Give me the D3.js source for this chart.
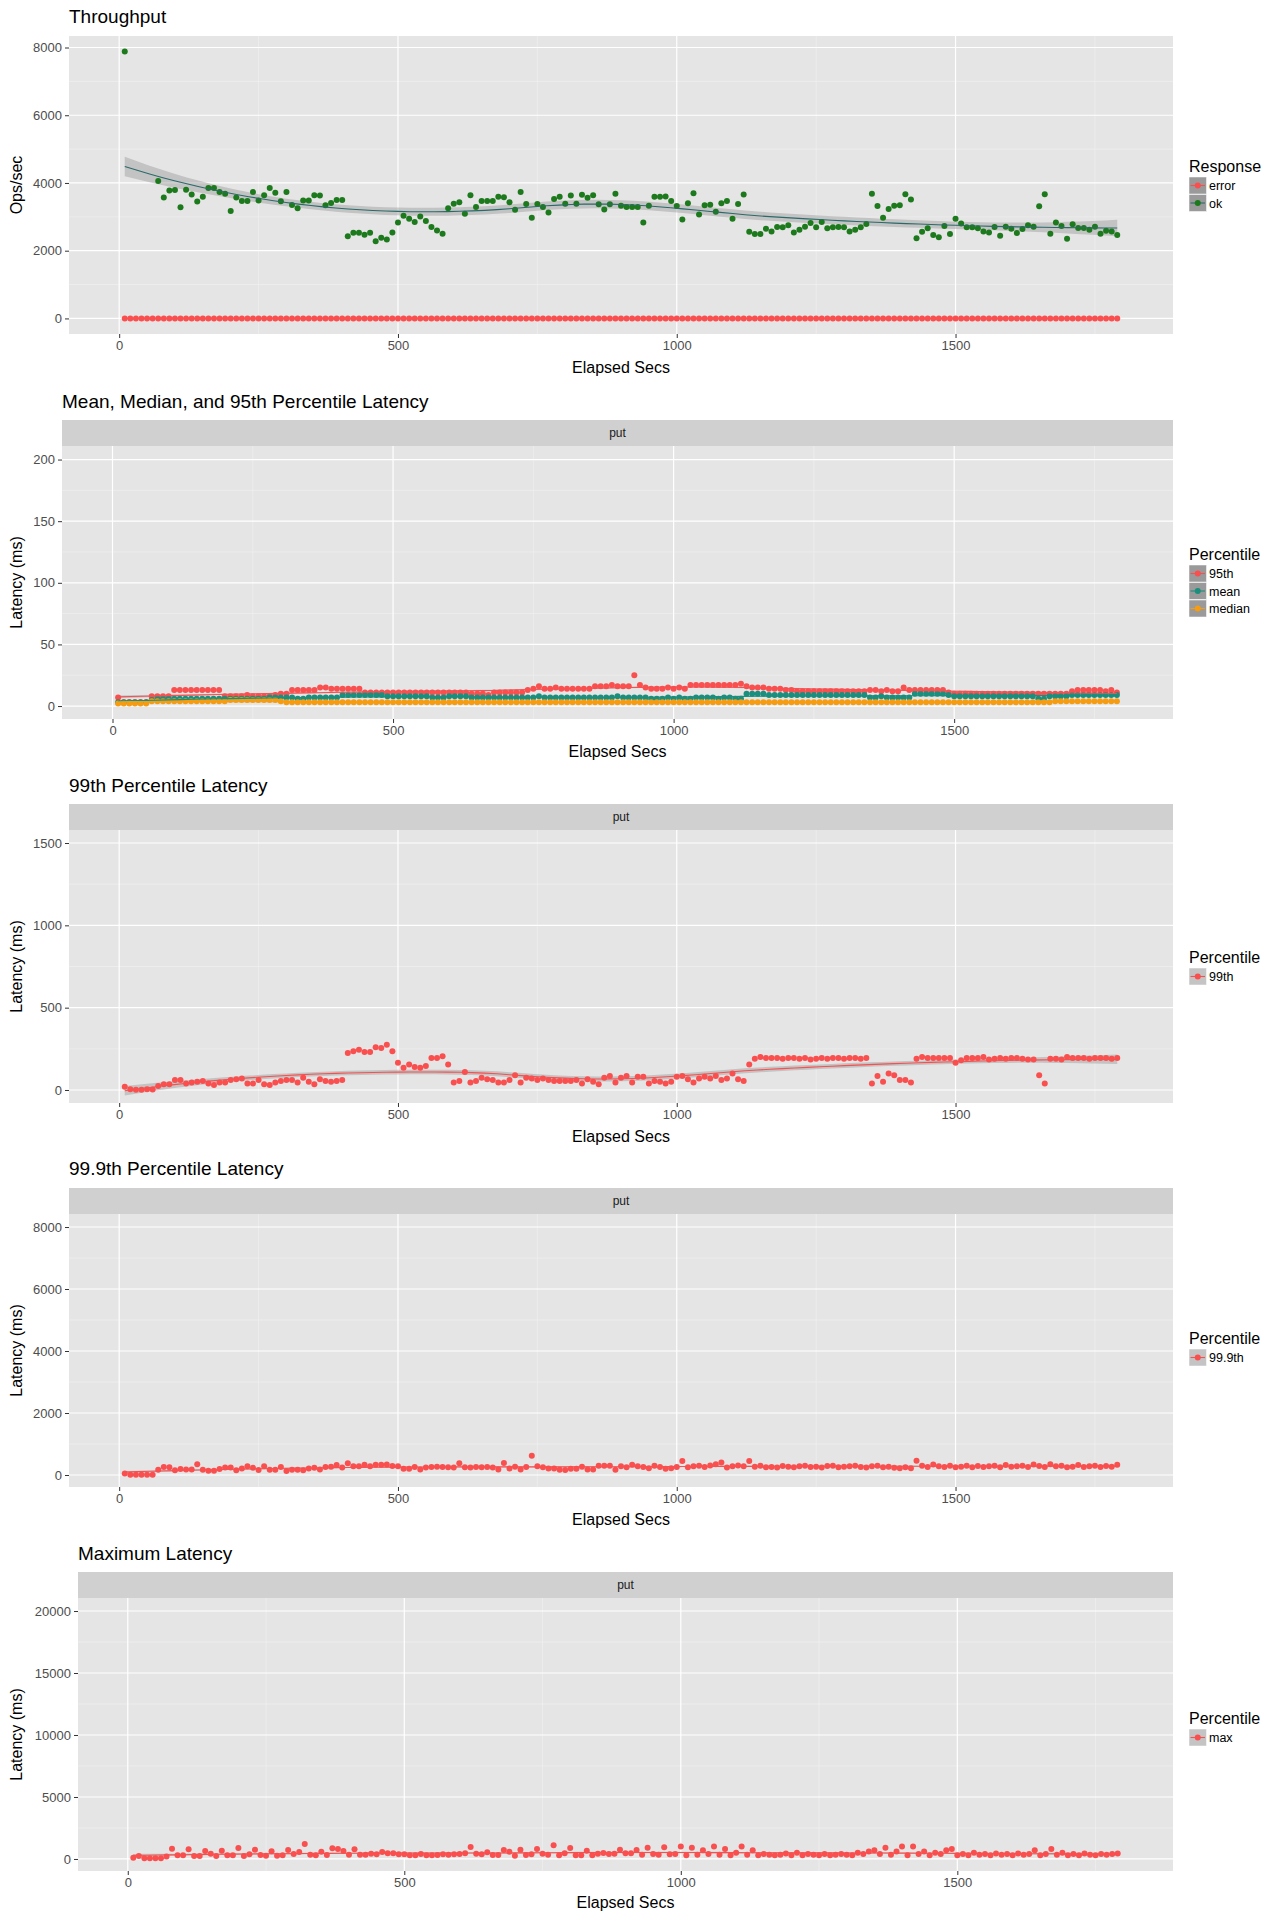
<!DOCTYPE html>
<html><head><meta charset="utf-8">
<script src="https://cdn.jsdelivr.net/npm/d3@7"></script>
<style>body{margin:0;background:#fff}svg{display:block;font-family:"Liberation Sans",Arial,sans-serif}</style>
</head><body><svg id="c" width="1280" height="1920"></svg>
<script>
// ---------- data (t = 10,20,...,1790) ----------
const okOps = [7880,null,null,null,null,null,4060,3570,3780,3790,3280,3800,3660,3450,3590,3850,3850,3730,3680,3170,3570,3470,3470,3730,3480,3640,3850,3710,3460,3730,3350,3250,3480,3480,3640,3630,3340,3410,3500,3500,
2430,2530,2530,2470,2530,2280,2380,2330,2540,2830,3030,2940,2850,3010,2880,2700,2600,2500,3250,3390,3430,3090,3640,3290,3470,3470,3470,3590,3580,3430,3210,3730,3380,2970,3380,3290,3130,3530,3590,3390,
3630,3390,3650,3560,3640,3370,3220,3370,3680,3330,3290,3290,3290,2830,3330,3590,3590,3600,3470,3320,2920,3400,3700,3070,3340,3360,3150,3400,3470,2940,3380,3660,2560,2490,2490,2650,2570,2700,2690,2750,
2540,2620,2710,2820,2690,2850,2660,2690,2700,2690,2570,2620,2690,2790,3680,3320,2970,3230,3330,3340,3670,3510,2370,2560,2660,2460,2400,2730,2490,2940,2800,2690,2690,2660,2570,2540,2700,2440,2710,2650,
2520,2640,2750,2710,3310,3670,2500,2830,2730,2350,2780,2670,2670,2620,2710,2500,2590,2570,2460];
// every "error" reading in the chart sits at 0 ops/sec for all 179 samples
const errorOps = okOps.map(() => 0);
const p95 = [7,3,3,3,3,3,8,8,8,8, 13,13,13,13,13,13,13,13,13,8, 8,8,8,9,8,8,8,8,9,10, 10,13,13,13,13,13,15,15,14,14,
14,14,14,14,11,11,11,11,11,11, 11,11,11,11,11,11,11,11,11,11, 11,11,11,10,10,10,9,11,11,11, 11,11,11,13,14,16,14,14,15,14,
14,14,14,14,14,16,16,16,17,16, 16,16,25,17,15,14,14,14,15,14, 15,14,17,17,17,17,17,17,17,17, 17,18,16,15,15,15,14,14,14,13,
13,12,12,12,12,12,12,12,12,12, 12,12,12,12,13,13,12,13,12,12, 15,13,13,13,13,13,13,13,11,10, 10,10,10,10,10,10,10,10,10,10,
10,10,10,10,10,10,10,10,10,10, 12,13,13,13,13,13,12,13,11];
const pMean = [3,3,3,3,3,3,5,6,6,6, 6,6,6,6,6,6,6,6,6,6, 6,6,6,6,6,6,6,7,7,7, 7,7,6,6,7,7,7,7,7,7,
9,9,9,9,9,9,9,9,8,8, 8,8,8,8,8,8,7,7,7,8, 8,8,8,7,7,7,7,7,7,7, 7,7,7,7,7,8,7,7,7,7,
7,7,7,7,7,7,7,7,7,8, 7,7,7,7,7,6,6,6,7,6, 7,6,6,7,7,7,7,6,7,7, 6,6,10,10,10,10,9,9,9,9,
9,9,9,9,9,9,9,9,9,9, 9,9,9,9,7,7,8,7,7,7, 7,7,10,10,10,10,10,10,9,8, 8,8,8,8,8,8,8,8,8,8,
8,8,8,8,6,6,8,8,8,8, 9,9,9,9,9,9,9,9,9];
const pMedian = [2,2,2,2,2,2,4,4,4,4, 4,4,4,4,4,4,4,4,4,4, 5,5,5,5,5,5,5,5,5,4, 3,3,3,3,3,3,3,3,3,3,
3,3,3,3,3,3,3,3,3,3, 3,3,3,3,3,3,3,3,3,3, 3,3,3,3,3,3,3,3,3,3, 3,3,3,3,3,3,3,3,3,3,
3,3,3,3,3,3,3,3,3,3, 3,3,3,3,3,3,3,3,3,3, 3,3,3,3,3,3,3,3,3,3, 3,3,3,3,3,3,3,3,3,3,
3,3,3,3,3,3,3,3,3,3, 3,3,3,3,3,3,3,3,3,3, 3,3,3,3,3,3,3,3,3,3, 3,3,3,3,3,3,3,3,3,3,
3,3,3,3,3,3,3,4,4,4, 4,4,4,4,4,4,4,4,4];
const p99 = [20,5,2,2,5,3,25,35,35,60, 60,40,45,50,55,40,30,45,45,60, 65,70,40,40,60,35,30,45,55,60, 60,45,75,50,35,65,55,50,55,60,
225,235,245,230,230,260,255,275,235,165, 135,155,140,135,145,195,195,205,155,45, 55,110,45,55,75,65,60,45,45,60, 90,45,75,70,60,70,60,55,55,55,
55,60,40,65,50,35,75,85,45,75, 85,45,80,80,40,55,50,40,50,80, 85,65,45,70,80,70,85,60,70,100, 65,55,155,190,200,195,195,195,190,195,
195,190,195,185,190,195,190,195,195,190, 195,195,190,195,40,85,50,100,90,60, 60,45,190,200,195,195,195,195,195,165, 180,195,195,195,200,185,190,195,190,195,
195,190,185,185,90,40,190,190,185,200, 195,195,195,190,195,195,195,190,195];
const p999 = [45,10,5,5,10,5,170,260,250,150, 190,180,180,350,170,140,140,190,240,240, 150,210,280,230,160,280,170,170,260,130, 170,170,150,210,230,180,260,270,320,240,
380,280,280,330,280,330,330,340,290,280, 200,200,260,180,240,260,270,260,250,240, 380,250,240,260,250,260,240,180,390,210, 270,180,260,620,280,250,210,210,170,160,
200,200,270,180,180,300,300,300,170,280, 250,330,280,260,220,300,260,200,220,260, 450,250,280,300,260,310,350,400,240,280, 310,280,450,270,300,250,260,240,290,270,
250,280,300,260,270,240,290,300,250,270, 280,300,260,240,280,300,250,270,230,220, 250,220,460,300,260,340,280,260,300,250, 270,300,250,290,260,280,300,250,320,270,
280,300,260,340,290,260,350,280,300,250, 270,320,260,280,300,260,290,270,330];
const pMax = [100,240,50,50,50,50,200,830,300,300, 780,240,240,640,430,240,670,300,300,880, 240,380,750,320,270,620,270,300,720,400, 560,1200,350,300,590,320,860,800,640,350,
780,350,350,430,380,560,460,460,380,380, 300,300,400,300,300,320,380,350,380,400, 460,960,430,380,540,320,320,720,590,270, 750,320,380,800,430,350,1100,300,460,880,
300,300,670,300,430,480,400,430,750,460, 460,720,350,900,400,350,950,380,400,1000, 300,900,350,700,400,1000,350,800,300,500, 1000,350,700,300,400,350,300,350,450,300,
500,300,400,350,300,400,300,350,400,350, 300,500,400,600,700,400,900,350,600,1000, 300,1000,400,600,300,500,400,700,800,300, 400,300,500,350,400,300,450,350,400,300,
450,350,400,700,300,400,800,350,500,300, 400,300,450,350,300,400,350,400,450];
const xTicks = [0,500,1000,1500];

// ---------- loess ----------
function loess(pts, span=0.75){
  const n=pts.length, q=Math.floor(span*n);
  const xs=pts.map(p=>p[0]), ys=pts.map(p=>p[1]);
  function fitAt(x0){
    const d=xs.map(x=>Math.abs(x-x0)); const sd=[...d].sort((a,b)=>a-b);
    const h=sd[Math.min(q,n)-1]*1.0001;
    const w=d.map(v=>{const u=v/h;return u<1?Math.pow(1-u*u*u,3):0;});
    const S=[[0,0,0],[0,0,0],[0,0,0]];
    for(let i=0;i<n;i++){const z=(xs[i]-x0)/h, r=[1,z,z*z];
      for(let a=0;a<3;a++)for(let b=0;b<3;b++)S[a][b]+=w[i]*r[a]*r[b];}
    const inv=inv3(S);
    let fit=0, l2=0;
    for(let i=0;i<n;i++){const z=(xs[i]-x0)/h;
      const li=(inv[0][0]+inv[0][1]*z+inv[0][2]*z*z)*w[i];
      fit+=li*ys[i]; l2+=li*li;}
    return [fit,l2];
  }
  let rss=0; pts.forEach(p=>{const f=fitAt(p[0])[0]; rss+=(p[1]-f)**2;});
  const sigma=Math.sqrt(rss/Math.max(1,n-5));
  const x0=d3.min(xs), x1=d3.max(xs), out=[];
  for(let k=0;k<=80;k++){const x=x0+(x1-x0)*k/80; const [f,l2]=fitAt(x);
    const se=sigma*Math.sqrt(l2); out.push({x,y:f,lo:f-1.97*se,hi:f+1.97*se});}
  return out;
}
function inv3(m){
  const [a,b,c]=m[0],[d,e,f]=m[1],[g,h,i]=m[2];
  const A=e*i-f*h,B=-(d*i-f*g),C=d*h-e*g, det=a*A+b*B+c*C;
  return [[A/det,-(b*i-c*h)/det,(b*f-c*e)/det],[B/det,(a*i-c*g)/det,-(a*f-c*d)/det],[C/det,-(a*h-b*g)/det,(a*e-b*d)/det]];
}

// ---------- panel ----------
const svg=d3.select("#c");
const RIGHT=1173;
function panel(cfg){
  const g=svg.append("g");
  const x=d3.scaleLinear().domain([-90,1890]).range([cfg.left,RIGHT]);
  const y=d3.scaleLinear().domain(cfg.yDomain).range([cfg.bottom,cfg.top]);
  g.append("text").attr("x",cfg.titleX).attr("y",cfg.titleY).attr("font-size",19).attr("fill","#000").text(cfg.title);
  if(cfg.strip){
    g.append("rect").attr("x",cfg.left).attr("y",cfg.strip[0]).attr("width",RIGHT-cfg.left).attr("height",cfg.strip[1]-cfg.strip[0]).attr("fill","#d0d0d0");
    g.append("text").attr("x",(cfg.left+RIGHT)/2).attr("y",(cfg.strip[0]+cfg.strip[1])/2+4).attr("text-anchor","middle").attr("font-size",12).attr("fill","#1a1a1a").text("put");
  }
  g.append("rect").attr("x",cfg.left).attr("y",cfg.top).attr("width",RIGHT-cfg.left).attr("height",cfg.bottom-cfg.top).attr("fill","#e5e5e5");
  const yt=cfg.yTicks, step=yt[1]-yt[0];
  const yMinor=[]; for(let v=yt[0]-step/2; v<=cfg.yDomain[1]; v+=step) if(v>=cfg.yDomain[0]) yMinor.push(v);
  const xMinor=[250,750,1250,1750];
  g.selectAll(".ym").data(yMinor).join("line").attr("x1",cfg.left).attr("x2",RIGHT).attr("y1",d=>y(d)).attr("y2",d=>y(d)).attr("stroke","#f2f2f2").attr("stroke-width",0.6);
  g.selectAll(".xm").data(xMinor).join("line").attr("y1",cfg.top).attr("y2",cfg.bottom).attr("x1",d=>x(d)).attr("x2",d=>x(d)).attr("stroke","#f2f2f2").attr("stroke-width",0.6);
  g.selectAll(".yM").data(yt).join("line").attr("x1",cfg.left).attr("x2",RIGHT).attr("y1",d=>y(d)).attr("y2",d=>y(d)).attr("stroke","#fff").attr("stroke-width",1.2);
  g.selectAll(".xM").data(xTicks).join("line").attr("y1",cfg.top).attr("y2",cfg.bottom).attr("x1",d=>x(d)).attr("x2",d=>x(d)).attr("stroke","#fff").attr("stroke-width",1.2);
  const ax=g.append("g").attr("transform",`translate(0,${cfg.bottom})`).call(d3.axisBottom(x).tickValues(xTicks).tickSize(4).tickPadding(3).tickFormat(d3.format("d")));
  const ay=g.append("g").attr("transform",`translate(${cfg.left},0)`).call(d3.axisLeft(y).tickValues(yt).tickSize(4).tickPadding(3).tickFormat(d3.format("d")));
  [ax,ay].forEach(a=>{a.select(".domain").remove();a.selectAll("line").attr("stroke","#333");a.selectAll("text").attr("font-size",13).attr("fill","#4d4d4d").attr("font-family","Liberation Sans, Arial, sans-serif");});
  g.append("text").attr("x",(cfg.left+RIGHT)/2).attr("y",cfg.xTitleY).attr("text-anchor","middle").attr("font-size",16).text("Elapsed Secs");
  g.append("text").attr("transform",`translate(22,${(cfg.top+cfg.bottom)/2}) rotate(-90)`).attr("text-anchor","middle").attr("font-size",16).text(cfg.yLabel);
  cfg.series.forEach(s=>{
    const pts=s.values.map((v,i)=>[10*(i+1),v]).filter(p=>p[1]!=null);
    const sm=loess(pts);
    g.append("path").datum(sm).attr("d",d3.area().x(d=>x(d.x)).y0(d=>y(Math.max(cfg.yDomain[0],d.lo))).y1(d=>y(Math.min(cfg.yDomain[1],d.hi)))).attr("fill","#999").attr("opacity",0.45);
    s.pts=pts; s.sm=sm;
  });
  cfg.series.forEach(s=>{
    g.selectAll(null).data(s.pts).join("circle").attr("cx",d=>x(d[0])).attr("cy",d=>y(d[1])).attr("r",3).attr("fill",s.color);
  });
  cfg.series.forEach(s=>{
    g.append("path").datum(s.sm).attr("d",d3.line().x(d=>x(d.x)).y(d=>y(d.y))).attr("fill","none").attr("stroke",s.line||s.color).attr("stroke-width",1.1);
  });
  const L=g.append("g").attr("transform",`translate(1189,${cfg.legendY})`);
  L.append("text").attr("y",0).attr("font-size",16).text(cfg.legendTitle);
  cfg.series.forEach((s,i)=>{
    const yy=5+i*17.5;
    L.append("rect").attr("x",0).attr("y",yy).attr("width",17.5).attr("height",17).attr("fill",cfg.keyFill).attr("stroke","#fff").attr("stroke-width",0.5);
    L.append("line").attr("x1",1.5).attr("x2",16).attr("y1",yy+8.5).attr("y2",yy+8.5).attr("stroke",s.line||s.color).attr("stroke-width",1.1);
    L.append("circle").attr("cx",8.75).attr("cy",yy+8.5).attr("r",3).attr("fill",s.color);
    L.append("text").attr("x",20).attr("y",yy+13).attr("font-size",12.5).text(s.name);
  });
}
const RED="#fa4f4f";
panel({title:"Throughput",titleX:69,titleY:23,left:69,top:36,bottom:334,yDomain:[-460,8340],yTicks:[0,2000,4000,6000,8000],
  yLabel:"Ops/sec",xTitleY:373,legendTitle:"Response",legendY:172,keyFill:"#9a9a9a",
  series:[{name:"error",color:RED,values:errorOps},{name:"ok",color:"#1c7a1c",line:"#2b6a6a",values:okOps}]});
panel({title:"Mean, Median, and 95th Percentile Latency",titleX:62,titleY:408,strip:[420,446],left:62,top:446,bottom:719,yDomain:[-10.5,211],yTicks:[0,50,100,150,200],
  yLabel:"Latency (ms)",xTitleY:757,legendTitle:"Percentile",legendY:560,keyFill:"#9a9a9a",
  series:[{name:"95th",color:RED,values:p95},{name:"mean",color:"#1b8e7e",values:pMean},{name:"median",color:"#f59c12",values:pMedian}]});
panel({title:"99th Percentile Latency",titleX:69,titleY:792,strip:[804,830],left:69,top:830,bottom:1103,yDomain:[-79,1579],yTicks:[0,500,1000,1500],
  yLabel:"Latency (ms)",xTitleY:1142,legendTitle:"Percentile",legendY:963,keyFill:"#c4c4c4",
  series:[{name:"99th",color:RED,values:p99}]});
panel({title:"99.9th Percentile Latency",titleX:69,titleY:1175,strip:[1188,1214],left:69,top:1214,bottom:1487,yDomain:[-387,8420],yTicks:[0,2000,4000,6000,8000],
  yLabel:"Latency (ms)",xTitleY:1525,legendTitle:"Percentile",legendY:1344,keyFill:"#c4c4c4",
  series:[{name:"99.9th",color:RED,values:p999}]});
panel({title:"Maximum Latency",titleX:78,titleY:1560,strip:[1572,1598],left:78,top:1598,bottom:1871,yDomain:[-970,21050],yTicks:[0,5000,10000,15000,20000],
  yLabel:"Latency (ms)",xTitleY:1908,legendTitle:"Percentile",legendY:1724,keyFill:"#c4c4c4",
  series:[{name:"max",color:RED,values:pMax}]});
</script></body></html>
